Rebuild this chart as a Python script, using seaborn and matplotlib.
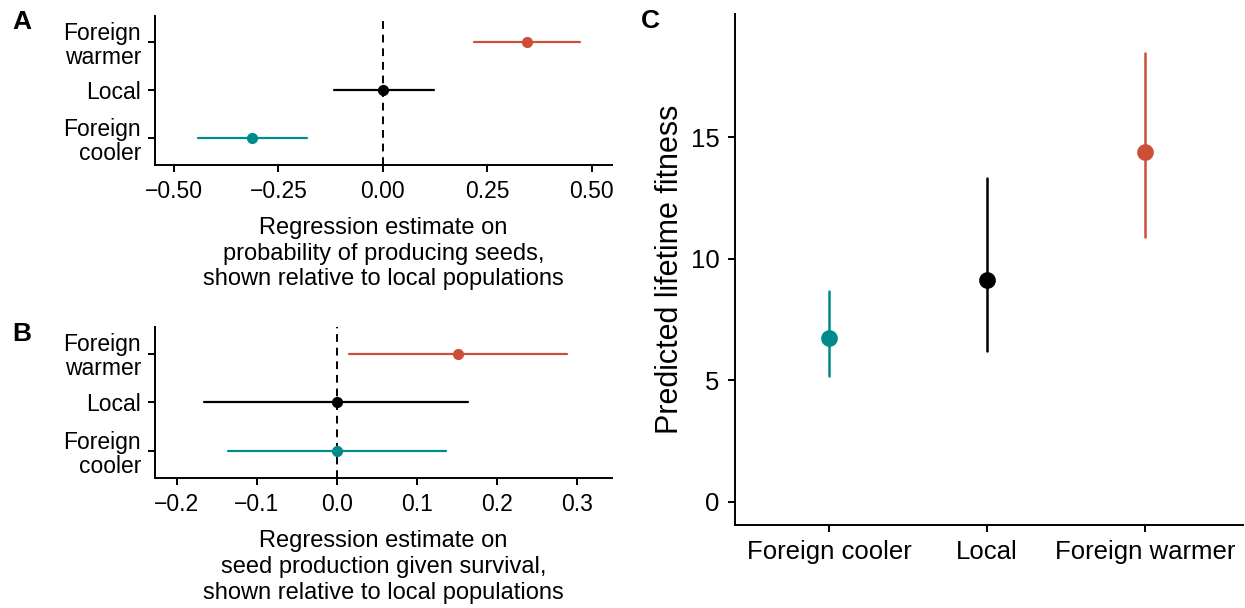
import numpy as np
import pandas as pd
import matplotlib
matplotlib.use("Agg")
import matplotlib.pyplot as plt
import seaborn as sns

# Panel A: probability of producing seeds (relative to local)
cats_ab = ["Foreign\nwarmer", "Local", "Foreign\ncooler"]
a_est = [0.344, 0.0, -0.313]
a_lo = [0.218, -0.117, -0.443]
a_hi = [0.471, 0.122, -0.182]

# Panel B: seed production given survival (relative to local)
b_est = [0.152, 0.0, 0.0]
b_lo = [0.016, -0.166, -0.136]
b_hi = [0.288, 0.164, 0.137]

# Panel C: predicted lifetime fitness
cats_c = ["Foreign cooler", "Local", "Foreign warmer"]
c_est = [6.75, 9.14, 14.4]
c_lo = [5.19, 6.21, 10.9]
c_hi = [8.68, 13.33, 18.48]

RED = "#CD4F38"
TEAL = "#008B8B"
BLACK = "#000000"
pal_ab = {"Foreign\nwarmer": RED, "Local": BLACK, "Foreign\ncooler": TEAL}
pal_c = {"Foreign cooler": TEAL, "Local": BLACK, "Foreign warmer": RED}


def long_frame(cats, lo, est, hi):
    # three rows per category: median = estimate, min/max = interval
    rows = []
    for c, l, e, h in zip(cats, lo, est, hi):
        for v in (l, e, h):
            rows.append({"cat": c, "val": v})
    return pd.DataFrame(rows)


sns.set_theme(style="ticks")
plt.rcParams["font.family"] = ["Liberation Sans", "DejaVu Sans"]
plt.rcParams.update({
    "axes.linewidth": 1.4,
    "axes.edgecolor": "black",
    "text.color": "black",
    "axes.labelcolor": "black",
    "xtick.color": "black",
    "ytick.color": "black",
    "xtick.major.width": 1.4,
    "ytick.major.width": 1.4,
    "xtick.major.size": 5,
    "ytick.major.size": 5,
    "xtick.major.pad": 6,
    "ytick.major.pad": 5,
})

fig = plt.figure(figsize=(12.45, 6.08), dpi=100)
ax_a = fig.add_axes([0.1245, 0.729, 0.367, 0.245])
ax_b = fig.add_axes([0.1245, 0.214, 0.367, 0.248])
ax_c = fig.add_axes([0.590, 0.1365, 0.408, 0.840])

fs = 16.5


def forest(ax, est, lo, hi, xlim, xticks, xticklabels, xlabel):
    df = long_frame(cats_ab, lo, est, hi)
    sns.pointplot(data=df, x="val", y="cat", hue="cat", order=cats_ab,
                  palette=pal_ab, estimator="median", errorbar=("pi", 100),
                  orient="h", linestyle="none", markersize=6,
                  err_kws={"linewidth": 1.6}, legend=False, ax=ax)
    ax.axvline(0, color="black", linestyle=(0, (4, 3)), linewidth=1.4, zorder=0)
    ax.set_xlim(*xlim)
    ax.set_ylim(2.55, -0.55)
    ax.set_xticks(xticks)
    ax.set_xticklabels(xticklabels, fontsize=fs)
    ax.tick_params(axis="y", labelsize=fs)
    for lab in ax.get_yticklabels():
        lab.set_linespacing(1.05)
    ax.set_ylabel("")
    ax.set_xlabel(xlabel, fontsize=fs + 0.5, labelpad=10, linespacing=1.22)
    sns.despine(ax=ax)


forest(ax_a, a_est, a_lo, a_hi, (-0.545, 0.548),
       [-0.5, -0.25, 0, 0.25, 0.5],
       ["\u22120.50", "\u22120.25", "0.00", "0.25", "0.50"],
       "Regression estimate on\nprobability of producing seeds,\nshown relative to local populations")
forest(ax_b, b_est, b_lo, b_hi, (-0.227, 0.344),
       [-0.2, -0.1, 0, 0.1, 0.2, 0.3],
       ["\u22120.2", "\u22120.1", "0.0", "0.1", "0.2", "0.3"],
       "Regression estimate on\nseed production given survival,\nshown relative to local populations")

df_c = long_frame(cats_c, c_lo, c_est, c_hi)
sns.pointplot(data=df_c, x="cat", y="val", hue="cat", order=cats_c,
              palette=pal_c, estimator="median", errorbar=("pi", 100),
              linestyle="none", markersize=10,
              err_kws={"linewidth": 1.8}, legend=False, ax=ax_c)
ax_c.set_xlim(-0.6, 2.62)
ax_c.set_ylim(-0.95, 20.06)
ax_c.set_yticks([0, 5, 10, 15])
ax_c.tick_params(axis="both", labelsize=18.5, pad=6)
ax_c.set_xlabel("")
ax_c.set_ylabel("Predicted lifetime fitness", fontsize=22, labelpad=4)
sns.despine(ax=ax_c)

fig.text(0.010, 0.963, "A", fontsize=19, fontweight="bold", va="center")
fig.text(0.010, 0.450, "B", fontsize=19, fontweight="bold", va="center")
fig.text(0.515, 0.966, "C", fontsize=19, fontweight="bold", va="center")

fig.savefig("out.png", dpi=100)
